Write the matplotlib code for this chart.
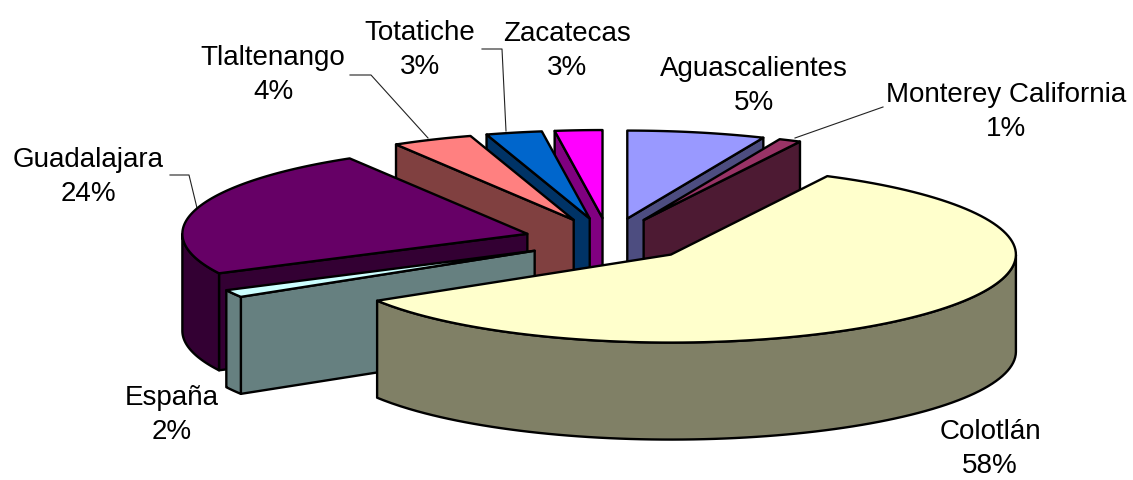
import numpy as np
import matplotlib
matplotlib.use('Agg')
import matplotlib.pyplot as plt
from matplotlib.patches import Polygon

plt.rcParams['font.family'] = ['Liberation Sans', 'DejaVu Sans']

# clockwise from 12 o'clock, same order as the excel sheet
places = ['Aguascalientes', 'Monterey California', 'Colotlán', 'España',
          'Guadalajara', 'Tlaltenango', 'Totatiche', 'Zacatecas']
percent = [5, 1, 58, 2, 24, 4, 3, 3]
top_colors = ['#9999FF', '#993366', '#FFFFCC', '#CCFFFF',
              '#660066', '#FF8080', '#0066CC', '#FF00FF']
side_colors = ['#4D4D80', '#4D1A33', '#808066', '#668080',
               '#330033', '#804040', '#003366', '#800080']

# back slices get painted first
draw_order = [7, 0, 6, 1, 5, 4, 3, 2]

# label centres
label_pos = [(754, 86), (1006, 112), (990, 449), (172, 415),
             (88, 177), (273, 75), (420, 50), (567, 51)]

# leader lines for the labels that sit away from their slice
leaders = [[(883, 107), (795, 138)],
           [(170, 175), (189, 175), (197, 208)],
           [(350, 75), (371, 75), (428, 138)],
           [(482, 49), (502, 49), (506, 131)]]

cx, cy = 608, 240
rx, ry = 345, 88
explode_x, explode_y = 84, 22
depth = 97


# excel perspective pulls the back slices around a bit, not a true angle
def warp(t):
    t = np.asarray(t, dtype=float)
    shift = 5.5 * (1 - np.exp(-t / 6)) * (1 - np.exp(-(360 - t) / 15))
    return t + shift + 2.5 * np.exp(-((t - 230) / 5) ** 2)


def rim_points(start, end, x0, y0):
    t = np.radians(warp(np.linspace(start, end, 120)))
    return x0 + rx * np.sin(t), y0 - ry * np.cos(t)


fig = plt.figure(figsize=(11.33, 4.8), dpi=100)
ax = fig.add_axes([0, 0, 1, 1])
ax.set_xlim(0, 1133)
ax.set_ylim(480, 0)
ax.axis('off')

edges = np.cumsum([0] + percent) * 3.6


def face(xs, ys, color, z):
    ax.add_patch(Polygon(np.column_stack([xs, ys]), closed=True, facecolor=color,
                         edgecolor='black', linewidth=1.7, joinstyle='round', zorder=z))


for n, i in enumerate(draw_order):
    start, end = edges[i], edges[i + 1]
    mid = np.radians(warp((start + end) / 2))
    x0 = cx + explode_x * np.sin(mid)
    y0 = cy - explode_y * np.cos(mid)
    xs, ys = rim_points(start, end, x0, y0)
    z = 2 + n

    # radial wall on the start side, only if it faces us
    if np.sin(np.radians(warp(start))) < -0.001:
        face([x0, xs[0], xs[0], x0], [y0, ys[0], ys[0] + depth, y0 + depth], side_colors[i], z)
    # same for the end side
    if np.sin(np.radians(warp(end))) > 0.001:
        face([x0, xs[-1], xs[-1], x0], [y0, ys[-1], ys[-1] + depth, y0 + depth], side_colors[i], z)

    # outer wall, front half only
    front = np.cos(np.radians(warp(np.linspace(start, end, 120)))) < 0
    if front.any():
        fx, fy = xs[front], ys[front]
        face(np.r_[fx, fx[::-1]], np.r_[fy, fy[::-1] + depth], side_colors[i], z)

    face(np.r_[x0, xs], np.r_[y0, ys], top_colors[i], z)

for line in leaders:
    pts = np.array(line)
    ax.plot(pts[:, 0], pts[:, 1], color='#222222', linewidth=0.8, zorder=1)

for name, pct, (lx, ly) in zip(places, percent, label_pos):
    ax.text(lx, ly, name + '\n' + str(pct) + '%', ha='center', va='center',
            fontsize=20, color='black', linespacing=1.43, zorder=30)

fig.savefig('out.png', dpi=100)
